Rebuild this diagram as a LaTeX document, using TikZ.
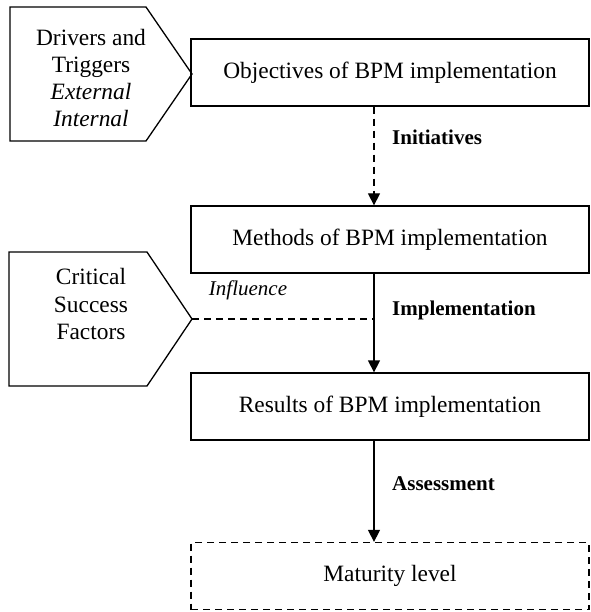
\documentclass[tikz,border=0pt]{standalone}
\usepackage{fontspec}
\setmainfont{Liberation Serif}
\usetikzlibrary{arrows.meta}
\begin{document}
\begin{tikzpicture}[x=1pt,y=-1pt,
  box/.style={draw, line width=1.3pt, minimum width=398pt, minimum height=67pt, inner sep=0pt,
    font=\fontsize{23.4}{27.3}\selectfont},
  penttext/.style={align=center, inner sep=0pt, font=\fontsize{23.4}{27.3}\selectfont},
  pent/.style={draw, line width=1.3pt, line join=miter},
  lbl/.style={font=\fontsize{21}{24}\selectfont\bfseries, anchor=west, inner sep=0pt},
  infl/.style={font=\fontsize{21}{24}\selectfont\itshape, inner sep=0pt},
  arr/.style={line width=1.3pt, -{Triangle[width=12pt,length=12pt]}},
  dsh/.style={dash pattern=on 7pt off 5pt}]
\useasboundingbox (0,0) rectangle (590,612);

% pentagons
\draw[pent] (10,7) -- (146,7) -- (192,74) -- (146,141) -- (10,141) -- cycle;
\node[penttext] (drv) at (91,78) {Drivers and\\Triggers\\\textit{External}\\\textit{Internal}};
\draw[pent] (9,252) -- (147,252) -- (192,319) -- (147,386) -- (9,386) -- cycle;
\node[penttext] (csf) at (91,304) {Critical\\Success\\Factors};
\coordinate (csftip) at (192,319);

% boxes
\node[box] (obj) at (390,72.5) {Objectives of BPM implementation};
\node[box] (meth) at (390,239.5) {Methods of BPM implementation};
\node[box] (res) at (390,406.5) {Results of BPM implementation};
\node[box, dsh] (mat) at (390,576) {Maturity level};

\coordinate (ax) at (374,0);

% arrows
\draw[arr, dsh] (obj.south -| ax) -- (meth.north -| ax);
\draw[arr] (meth.south -| ax) -- (res.north -| ax);
\draw[arr] (res.south -| ax) -- (mat.north -| ax);
\draw[line width=1.3pt, dsh] (csftip) -- (csftip -| ax);

% labels
\node[lbl] (l1) at (392,137) {Initiatives};
\node[lbl] (l2) at (392,310) {Implementation};
\node[lbl] (l3) at (392,484) {Assessment};
\node[infl] (l4) at (248,290) {Influence};
\end{tikzpicture}
\end{document}
